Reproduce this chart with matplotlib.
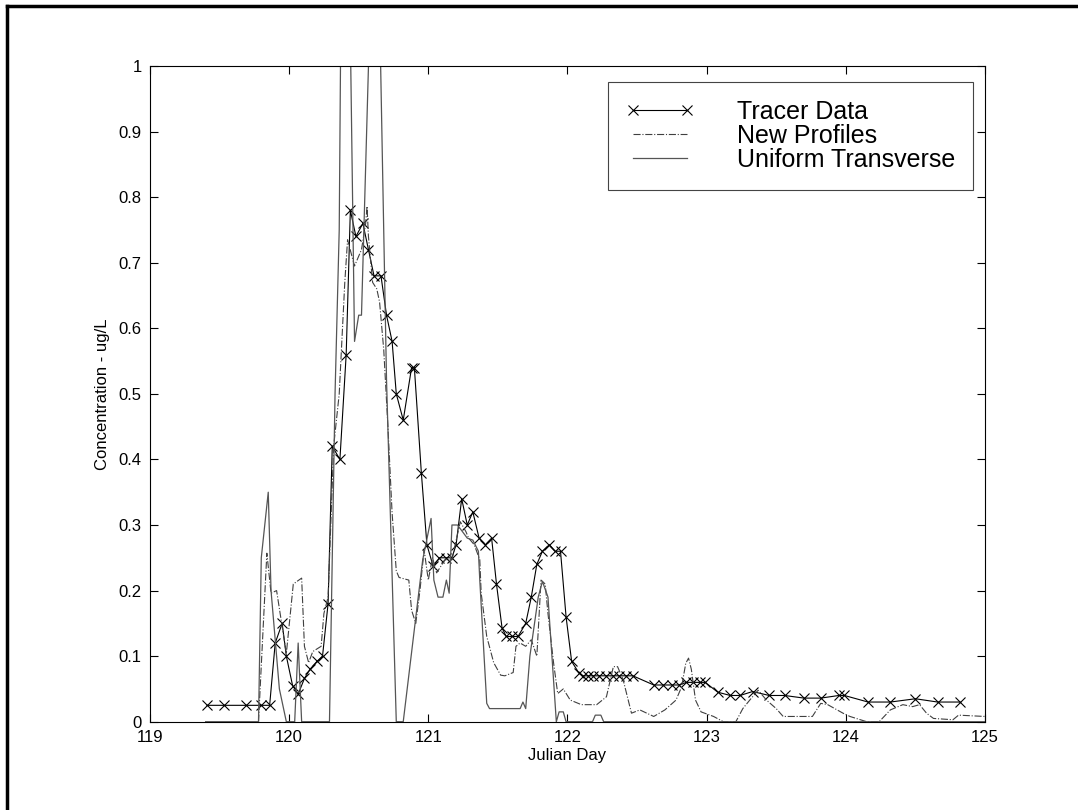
import numpy as np
import matplotlib
matplotlib.use("Agg")
import matplotlib.pyplot as plt
from matplotlib.lines import Line2D

plt.rcParams['font.family'] = ['Liberation Sans', 'DejaVu Sans']

# Tracer Data (measured, x markers)
tracer_day = [119.41, 119.53, 119.69, 119.80, 119.86, 119.90, 119.95, 119.98, 120.025, 120.065,
              120.11, 120.15, 120.20, 120.24, 120.28, 120.31, 120.365, 120.41, 120.44, 120.48,
              120.53, 120.57, 120.61, 120.66, 120.70, 120.74, 120.77, 120.82, 120.88, 120.90,
              120.95, 120.99, 121.035, 121.08, 121.13, 121.17, 121.20, 121.24, 121.28, 121.32,
              121.365, 121.41, 121.455, 121.49, 121.53, 121.56, 121.60, 121.645, 121.70, 121.74,
              121.78, 121.82, 121.87, 121.91, 121.95, 121.99, 122.03, 122.08, 122.11, 122.15,
              122.18, 122.23, 122.28, 122.33, 122.37, 122.42, 122.47, 122.62, 122.69, 122.75,
              122.80, 122.855, 122.90, 122.95, 122.99, 123.08, 123.17, 123.24, 123.33, 123.45,
              123.56, 123.70, 123.82, 123.95, 123.99, 124.16, 124.32, 124.50, 124.66, 124.82]
tracer_conc = [0.025, 0.025, 0.025, 0.025, 0.025, 0.12, 0.15, 0.10, 0.055, 0.042,
               0.066, 0.08, 0.092, 0.10, 0.18, 0.42, 0.40, 0.56, 0.78, 0.74,
               0.76, 0.72, 0.68, 0.68, 0.62, 0.58, 0.50, 0.46, 0.54, 0.54,
               0.38, 0.27, 0.237, 0.25, 0.25, 0.25, 0.27, 0.34, 0.30, 0.32,
               0.28, 0.27, 0.28, 0.21, 0.143, 0.13, 0.13, 0.13, 0.15, 0.19,
               0.24, 0.26, 0.27, 0.26, 0.26, 0.16, 0.092, 0.075, 0.07, 0.07,
               0.07, 0.07, 0.07, 0.07, 0.07, 0.07, 0.07, 0.056, 0.056, 0.056,
               0.056, 0.06, 0.06, 0.06, 0.06, 0.045, 0.04, 0.04, 0.046, 0.04,
               0.04, 0.036, 0.036, 0.04, 0.04, 0.03, 0.03, 0.035, 0.03, 0.03]

# New Profiles (model, dash-dot)
new_day = [119.78, 119.84, 119.87, 119.91, 119.98, 120.03, 120.09, 120.11, 120.14, 120.17,
           120.23, 120.25, 120.28, 120.32, 120.36, 120.40, 120.42, 120.47, 120.52, 120.55,
           120.56, 120.57, 120.60, 120.63, 120.65, 120.68, 120.71, 120.74, 120.77, 120.79,
           120.86, 120.88, 120.91, 120.94, 120.97, 121.00, 121.03, 121.06, 121.12, 121.17,
           121.19, 121.23, 121.27, 121.29, 121.33, 121.37, 121.38, 121.42, 121.47, 121.52,
           121.55, 121.61, 121.63, 121.66, 121.70, 121.74, 121.78, 121.81, 121.84, 121.86,
           121.90, 121.93, 121.97, 122.02, 122.10, 122.21, 122.28, 122.33, 122.36, 122.40,
           122.46, 122.52, 122.62, 122.70, 122.78, 122.82, 122.85, 122.87, 122.89, 122.92,
           122.96, 123.05, 123.12, 123.21, 123.26, 123.31, 123.37, 123.43, 123.50, 123.55,
           123.76, 123.82, 123.87, 123.98, 124.03, 124.15, 124.24, 124.32, 124.41, 124.48,
           124.53, 124.58, 124.63, 124.77, 124.81, 125.00]
new_conc = [0.0, 0.257, 0.196, 0.20, 0.104, 0.21, 0.219, 0.115, 0.09, 0.107,
            0.115, 0.165, 0.19, 0.42, 0.50, 0.67, 0.735, 0.695, 0.72, 0.76,
            0.786, 0.74, 0.67, 0.66, 0.64, 0.567, 0.45, 0.318, 0.23, 0.22,
            0.216, 0.17, 0.15, 0.20, 0.262, 0.216, 0.25, 0.227, 0.247, 0.247,
            0.267, 0.305, 0.29, 0.28, 0.27, 0.247, 0.196, 0.13, 0.09, 0.071,
            0.07, 0.075, 0.115, 0.12, 0.115, 0.125, 0.10, 0.216, 0.21, 0.165,
            0.09, 0.043, 0.05, 0.033, 0.026, 0.026, 0.038, 0.084, 0.084, 0.064,
            0.013, 0.018, 0.008, 0.018, 0.033, 0.053, 0.089, 0.097, 0.08, 0.033,
            0.015, 0.008, 0.0, 0.0, 0.02, 0.033, 0.048, 0.033, 0.02, 0.008,
            0.008, 0.028, 0.026, 0.013, 0.008, 0.0, 0.0, 0.018, 0.026, 0.023,
            0.026, 0.013, 0.005, 0.003, 0.01, 0.008]

# Uniform Transverse (model, solid)
uni_day = [119.40, 119.78, 119.80, 119.85, 119.87, 119.93, 119.98, 120.04, 120.065, 120.09,
           120.29, 120.33, 120.36, 120.38, 120.43, 120.47, 120.50, 120.52, 120.59, 120.64,
           120.70, 120.77, 120.82, 120.96, 121.02, 121.04, 121.07, 121.105, 121.13, 121.15,
           121.17, 121.21, 121.28, 121.32, 121.36, 121.37, 121.42, 121.44, 121.66, 121.68,
           121.70, 121.73, 121.79, 121.82, 121.86, 121.92, 121.94, 121.97, 121.99, 122.18,
           122.20, 122.24, 122.26, 125.00]
uni_conc = [0.0, 0.0, 0.25, 0.35, 0.2, 0.05, 0.0, 0.0, 0.12, 0.0,
            0.0, 0.5, 0.75, 1.3, 1.2, 0.58, 0.62, 0.62, 1.15, 1.2,
            0.52, 0.0, 0.0, 0.247, 0.31, 0.216, 0.19, 0.19, 0.216, 0.196,
            0.30, 0.30, 0.28, 0.277, 0.26, 0.216, 0.028, 0.02, 0.02, 0.03,
            0.02, 0.1, 0.19, 0.214, 0.19, 0.0, 0.015, 0.015, 0.0, 0.0,
            0.01, 0.01, 0.0, 0.0]

fig = plt.figure(figsize=(10.78, 8.10), dpi=100)
ax = fig.add_axes([0.1391, 0.109, 0.7746, 0.8095])

ax.plot(tracer_day, tracer_conc, color='black', lw=0.8, marker='x', ms=7, mew=0.8,
        label='Tracer Data')
ax.plot(new_day, new_conc, color='#404040', lw=0.8, linestyle='-.', label='New Profiles')
ax.plot(uni_day, uni_conc, color='#555555', lw=0.9, label='Uniform Transverse')

ax.set_xlim(119, 125)
ax.set_ylim(0, 1)
ax.set_xticks(np.arange(119, 126, 1))
ax.set_yticks(np.arange(0, 1.01, 0.1))
ax.set_yticklabels(['0', '0.1', '0.2', '0.3', '0.4', '0.5', '0.6', '0.7', '0.8', '0.9', '1'])
ax.tick_params(direction='in', length=6, width=0.8, top=True, right=True, labelsize=12, pad=6)
for s in ax.spines.values():
    s.set_linewidth(0.8)

ax.set_xlabel('Julian Day', fontsize=12, labelpad=2)
ax.set_ylabel('Concentration - ug/L', fontsize=12, labelpad=6)

leg = ax.legend(loc='upper right', bbox_to_anchor=(0.986, 0.976), borderaxespad=0,
                fontsize=18, labelspacing=0.0, handlelength=2.75, handletextpad=1.7,
                borderpad=0.72, numpoints=2, fancybox=False, framealpha=1,
                edgecolor='#444444')
leg.get_frame().set_linewidth(0.8)

# outer frame (left and top edges visible in the reference)
fig.add_artist(Line2D([7 / 1078, 7 / 1078], [0, 1 - 6 / 810], transform=fig.transFigure,
                      color='black', lw=2.5))
fig.add_artist(Line2D([7 / 1078, 1], [1 - 6 / 810, 1 - 6 / 810], transform=fig.transFigure,
                      color='black', lw=2.5))

fig.savefig('out.png', dpi=100)
